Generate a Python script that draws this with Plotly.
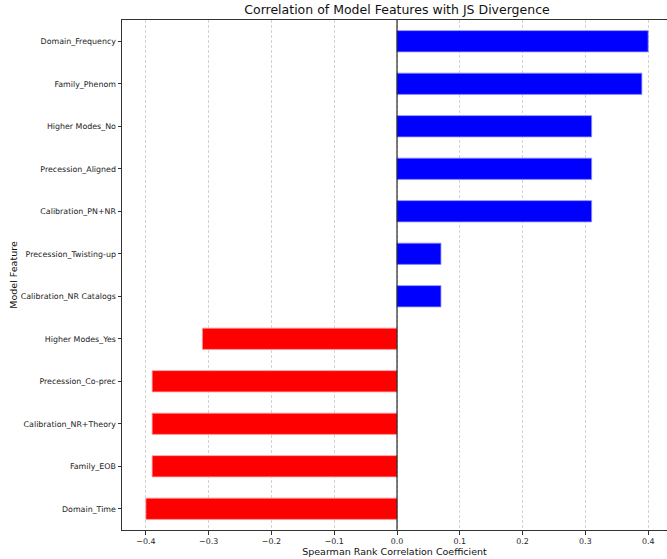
import plotly.graph_objects as go

features = [
    "Domain_Frequency", "Family_Phenom", "Higher Modes_No", "Precession_Aligned",
    "Calibration_PN+NR", "Precession_Twisting-up", "Calibration_NR Catalogs",
    "Higher Modes_Yes", "Precession_Co-prec", "Calibration_NR+Theory",
    "Family_EOB", "Domain_Time",
]
correlations = [0.40, 0.39, 0.31, 0.31, 0.31, 0.07, 0.07,
                -0.31, -0.39, -0.39, -0.39, -0.40]
x_ticks = [-0.4, -0.3, -0.2, -0.1, 0.0, 0.1, 0.2, 0.3, 0.4]
x_tick_labels = ["\u22120.4", "\u22120.3", "\u22120.2", "\u22120.1", "0.0", "0.1", "0.2", "0.3", "0.4"]

colors = ["blue" if v > 0 else "red" for v in correlations]
line_colors = ["rgba(140,140,255,1)" if v > 0 else "rgba(255,160,160,1)" for v in correlations]

FONT = "DejaVu Sans"

fig = go.Figure()
fig.add_trace(go.Bar(
    x=correlations, y=features, orientation="h",
    marker=dict(color=colors, line=dict(color=line_colors, width=0.8)),
    width=0.5,
))

fig.add_vline(x=0, line=dict(color="black", width=1))

fig.update_layout(
    width=667, height=559,
    margin=dict(l=122, r=0, t=20, b=29),
    paper_bgcolor="white", plot_bgcolor="white",
    font=dict(family=FONT, color="#222222"),
    showlegend=False,
    bargap=0.5,
    title=dict(text="Correlation of Model Features with JS Divergence",
               x=(397 - 122) / 545, xref="paper", xanchor="center",
               y=1, yref="container", yanchor="top", pad=dict(t=5),
               font=dict(family=FONT, size=12.5, color="#111111")),
    xaxis=dict(
        range=[-0.438, 0.43],
        tickvals=x_ticks, ticktext=x_tick_labels,
        ticks="outside", ticklen=3.5, tickwidth=0.8, tickcolor="#333333",
        tickfont=dict(family=FONT, size=7.9, color="#222222"),
        showgrid=True, gridcolor="rgba(200,200,200,0.8)", griddash="3px,2px", gridwidth=0.8,
        zeroline=False,
        showline=True, linecolor="#333333", linewidth=1, mirror=True,
        title=dict(text="Spearman Rank Correlation Coefficient",
                   font=dict(family=FONT, size=9.5, color="#111111"), standoff=3),
    ),
    yaxis=dict(
        categoryorder="array", categoryarray=features[::-1],
        range=[-0.5, 11.5],
        ticks="outside", ticklen=3.5, tickwidth=0.8, tickcolor="#333333",
        tickfont=dict(family=FONT, size=7.9, color="#222222"),
        showgrid=False, zeroline=False,
        showline=True, linecolor="#333333", linewidth=1,
        title=dict(text="Model Feature",
                   font=dict(family=FONT, size=9.5, color="#111111"), standoff=1),
    ),
)

fig.write_html("out.html")
